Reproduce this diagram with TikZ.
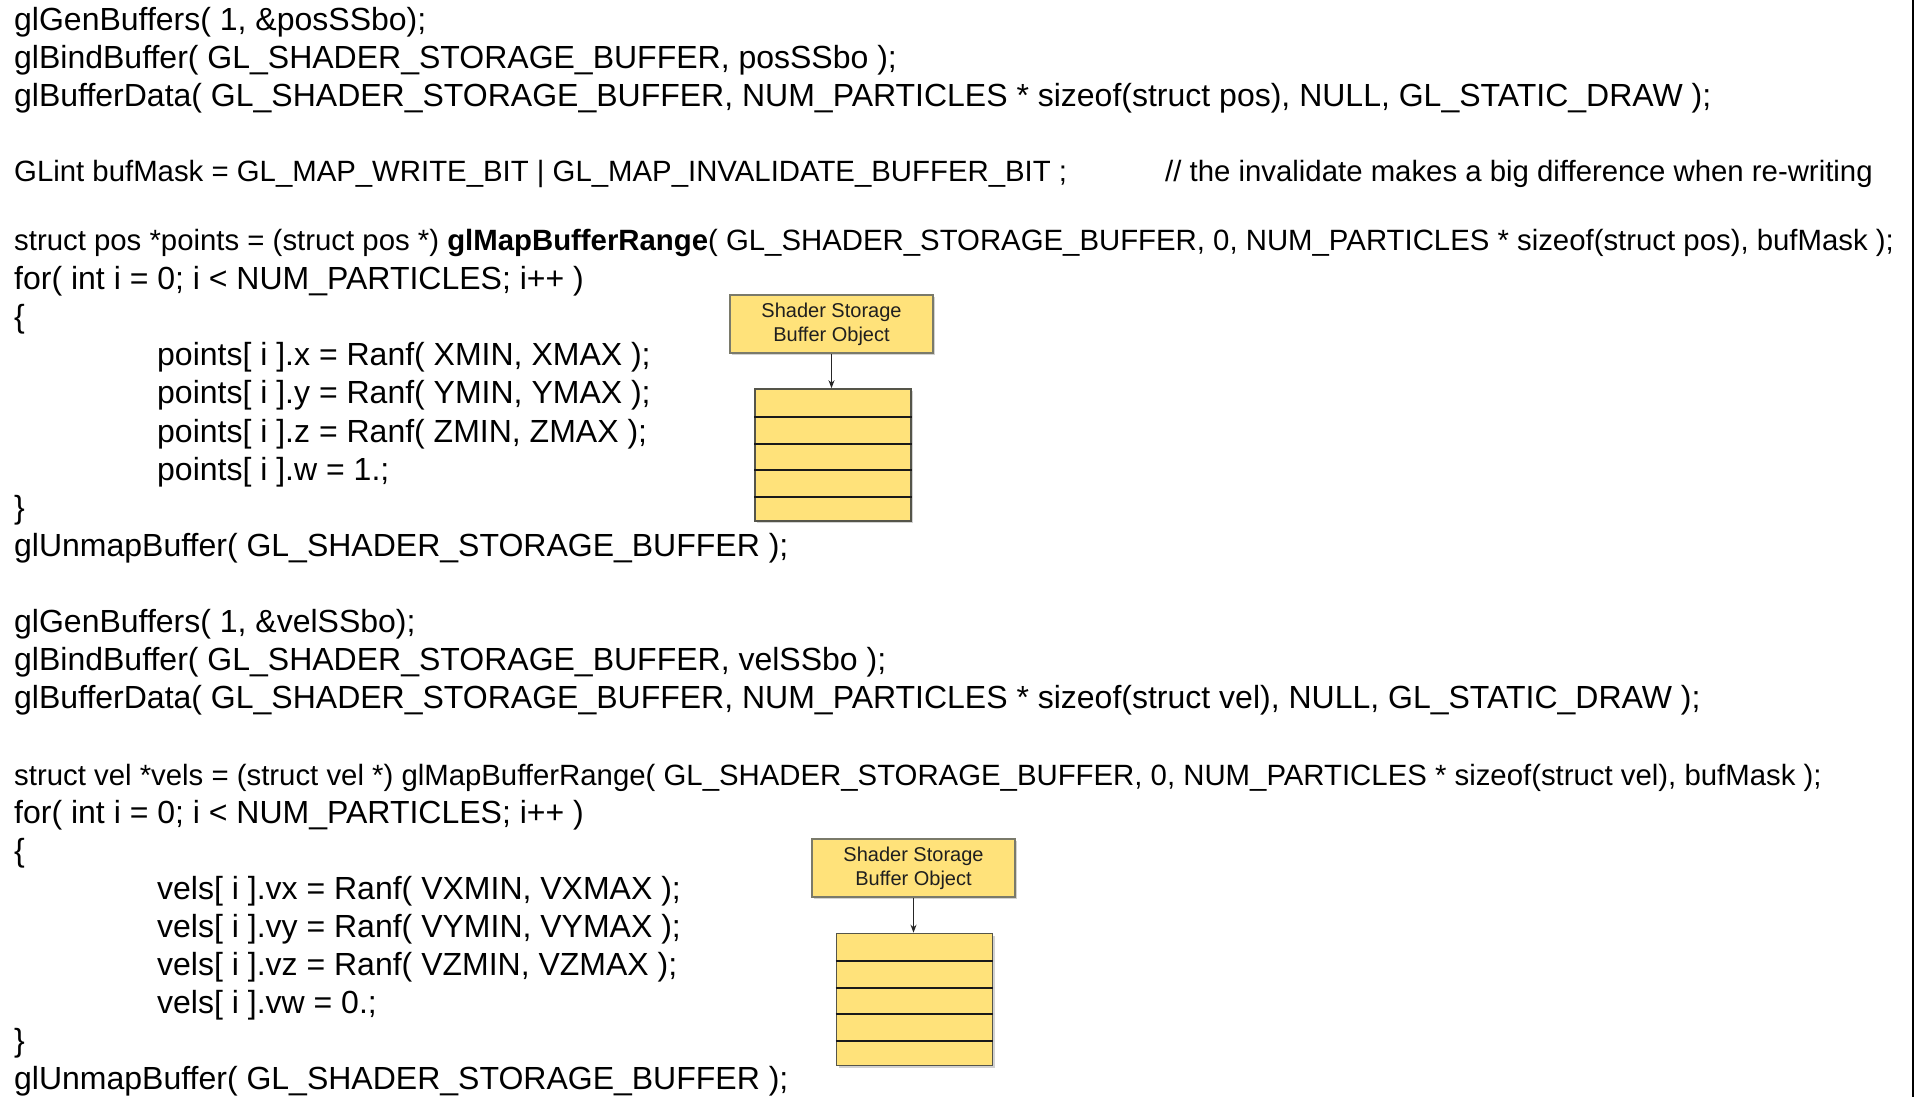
\documentclass[tikz,border=0pt]{standalone}
\usepackage{fontspec}
\setmainfont{Liberation Sans}
\usetikzlibrary{arrows.meta,shadows}
\definecolor{ssbofill}{HTML}{FFE27A}
\definecolor{ssboedge}{HTML}{55554A}
\definecolor{tagedge}{HTML}{7A7A6A}
\tikzset{
  code/.style={anchor=base west, inner sep=0pt, font=\fontsize{32}{38}\selectfont},
  longcode/.style={anchor=base west, inner sep=0pt, font=\fontsize{29.35}{38}\selectfont},
  tagbox/.style={draw=tagedge, line width=1.2pt, fill=ssbofill, inner sep=0pt,
    minimum width=203pt, minimum height=58pt, align=center,
    font=\fontsize{20}{24}\selectfont, text=black!88,
    drop shadow={shadow xshift=2pt, shadow yshift=-2pt, opacity=0.35, fill=gray}},
  bufbox/.style={draw=ssboedge, line width=1.6pt, fill=ssbofill, inner sep=0pt,
    minimum width=156pt, minimum height=132pt,
    drop shadow={shadow xshift=2pt, shadow yshift=-2pt, opacity=0.35, fill=gray}},
  rowline/.style={line width=1.8pt, black!90},
  pointer/.style={line width=1.8pt, black!85, -{Stealth[length=8pt,width=6pt]}}
}
\begin{document}
\begin{tikzpicture}[x=1pt, y=-1pt]
\useasboundingbox (0,0) rectangle (1917,1097);
\fill[white] (0,0) rectangle (1917,1097);
\draw[line width=2pt] (1912.5,0) -- (1912.5,1097);

% position buffer
\node[code] (l1)  at (14,31)    {glGenBuffers( 1, \&posSSbo);};
\node[code] (l2)  at (14,69)    {glBindBuffer( GL\_SHADER\_STORAGE\_BUFFER, posSSbo );};
\node[code] (l3)  at (14,107)   {glBufferData( GL\_SHADER\_STORAGE\_BUFFER, NUM\_PARTICLES * sizeof(struct pos), NULL, GL\_STATIC\_DRAW );};
\node[longcode] (l4)  at (14,182)   {GLint bufMask = GL\_MAP\_WRITE\_BIT | GL\_MAP\_INVALIDATE\_BUFFER\_BIT ;};
\node[longcode] (c4)  at (1165,182) {// the invalidate makes a big difference when re-writing};
\node[longcode] (l5)  at (14,250)   {struct pos *points = (struct pos *) \textbf{glMapBufferRange}( GL\_SHADER\_STORAGE\_BUFFER, 0, NUM\_PARTICLES * sizeof(struct pos), bufMask );};
\node[code] (l6)  at (14,289.2) {for( int i = 0; i < NUM\_PARTICLES; i++ )};
\node[code] (l7)  at (14,327.4) {\{};
\node[code] (l8)  at (157,365.6) {points[ i ].x = Ranf( XMIN, XMAX );};
\node[code] (l9)  at (157,403.8) {points[ i ].y = Ranf( YMIN, YMAX );};
\node[code] (l10) at (157,442)   {points[ i ].z = Ranf( ZMIN, ZMAX );};
\node[code] (l11) at (157,480.2) {points[ i ].w = 1.;};
\node[code] (l12) at (14,518.4) {\}};
\node[code] (l13) at (14,556.6) {glUnmapBuffer( GL\_SHADER\_STORAGE\_BUFFER );};

% velocity buffer
\node[code] (l14) at (14,632.5) {glGenBuffers( 1, \&velSSbo);};
\node[code] (l15) at (14,670.7) {glBindBuffer( GL\_SHADER\_STORAGE\_BUFFER, velSSbo );};
\node[code] (l16) at (14,708.9) {glBufferData( GL\_SHADER\_STORAGE\_BUFFER, NUM\_PARTICLES * sizeof(struct vel), NULL, GL\_STATIC\_DRAW );};
\node[longcode] (l17) at (14,785) {struct vel *vels = (struct vel *) glMapBufferRange( GL\_SHADER\_STORAGE\_BUFFER, 0, NUM\_PARTICLES * sizeof(struct vel), bufMask );};
\node[code] (l18) at (14,823.5) {for( int i = 0; i < NUM\_PARTICLES; i++ )};
\node[code] (l19) at (14,861.5) {\{};
\node[code] (l20) at (157,899.5) {vels[ i ].vx = Ranf( VXMIN, VXMAX );};
\node[code] (l21) at (157,937.5) {vels[ i ].vy = Ranf( VYMIN, VYMAX );};
\node[code] (l22) at (157,975.5) {vels[ i ].vz = Ranf( VZMIN, VZMAX );};
\node[code] (l23) at (157,1013.5) {vels[ i ].vw = 0.;};
\node[code] (l24) at (14,1051.5) {\}};
\node[code] (l25) at (14,1089.5) {glUnmapBuffer( GL\_SHADER\_STORAGE\_BUFFER );};

% SSBO sketches
\node[tagbox] (tagA) at (831.5,324) {Shader Storage\\Buffer Object};
\node[bufbox] (bufA) at (833,455) {};
\foreach \dy in {29,56,82,109}
  \draw[rowline] ([yshift=-\dy pt]bufA.north west) -- ([yshift=-\dy pt]bufA.north east);
\draw[pointer] (tagA.south) -- (tagA.south |- bufA.north);

\node[tagbox] (tagB) at (913.5,868) {Shader Storage\\Buffer Object};
\node[bufbox] (bufB) at (914.5,999.5) {};
\foreach \dy in {28,55,81,108}
  \draw[rowline] ([yshift=-\dy pt]bufB.north west) -- ([yshift=-\dy pt]bufB.north east);
\draw[pointer] (tagB.south) -- (tagB.south |- bufB.north);
\end{tikzpicture}
\end{document}
